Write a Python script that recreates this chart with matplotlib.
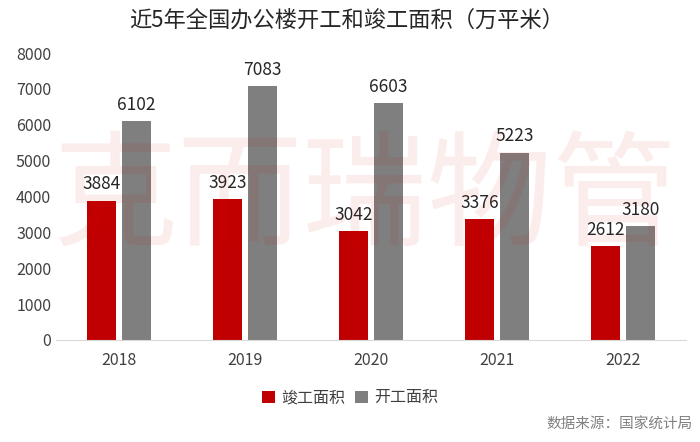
import numpy as np
import matplotlib.pyplot as plt

plt.rcParams['font.family'] = ['Noto Sans CJK SC', 'DejaVu Sans']

years = ['2018', '2019', '2020', '2021', '2022']
completed = [3884, 3923, 3042, 3376, 2612]   # 竣工面积
started = [6102, 7083, 6603, 5223, 3180]     # 开工面积

fig = plt.figure(figsize=(7, 4.42), dpi=100)
ax = fig.add_axes([0.08, 0.231, 0.90, 0.649])

# watermark
fig.text(0.522, 0.545, '克而瑞物管', fontsize=90, color='#e00000', alpha=0.07,
         ha='center', va='center', fontweight='medium', zorder=0)

x = np.arange(len(years))
w = 0.23
off = 0.14
b1 = ax.bar(x - off, completed, w, color='#c00000', label='竣工面积')
b2 = ax.bar(x + off, started, w, color='#7f7f7f', label='开工面积')

for bars, vals in ((b1, completed), (b2, started)):
    for b, v in zip(bars, vals):
        ax.text(b.get_x() + b.get_width() / 2, v + 200, str(v),
                ha='center', va='bottom', fontsize=12.5, color='#262626')

ax.set_xlim(-0.5, 4.5)
ax.set_ylim(0, 8000)
ax.set_yticks(range(0, 8001, 1000))
ax.set_xticks(x)
ax.set_xticklabels(years)
ax.tick_params(axis='both', length=0, labelsize=11.5, colors='#404040')
ax.tick_params(axis='x', pad=9)
for s in ['top', 'right', 'left']:
    ax.spines[s].set_visible(False)
ax.spines['bottom'].set_color('#d9d9d9')
ax.patch.set_alpha(0)

fig.text(0.495, 0.955, '近5年全国办公楼开工和竣工面积（万平米）', ha='center', va='center',
         fontsize=16, color='#262626', fontweight='medium')

fig.legend(handles=[b1, b2], loc='center', bbox_to_anchor=(0.5, 0.1),
           ncol=2, frameon=False, fontsize=11.5, handlelength=0.8,
           handleheight=0.8, handletextpad=0.4, columnspacing=0.6,
           labelcolor='#404040')

fig.text(0.99, 0.04, '数据来源：国家统计局', ha='right', va='center',
         fontsize=10.5, color='#808080')

fig.savefig('out.png', dpi=100)
